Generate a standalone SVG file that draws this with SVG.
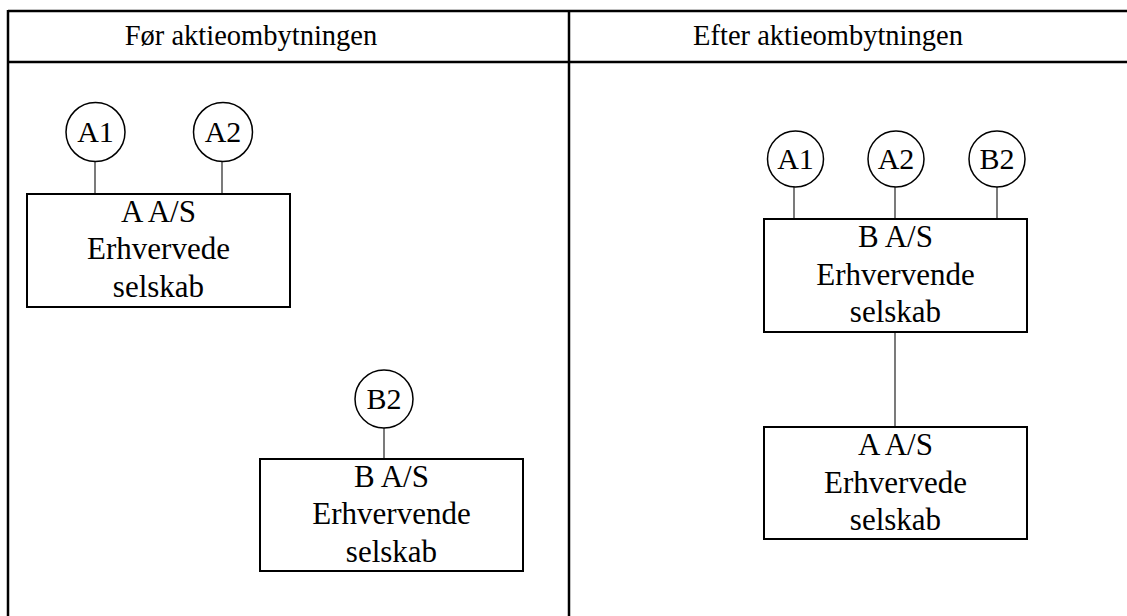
<svg xmlns="http://www.w3.org/2000/svg" width="1127" height="616" viewBox="0 0 1127 616">
<style>
text{font-family:"Liberation Serif","Times New Roman",serif;fill:#000;text-anchor:middle}
.hd{font-size:28.5px}
.bx{font-size:31px}
.cl{font-size:30px}
.box{fill:#fff;stroke:#000;stroke-width:2}
.own{fill:#fff;stroke:#000;stroke-width:1.5}
.tbl{stroke:#000;stroke-width:2.5;fill:none}
.con{stroke:#222;stroke-width:1.2;fill:none}
</style>
<rect width="1127" height="616" fill="#fff"/>
<g id="table">
<line class="tbl" x1="8" y1="11" x2="1127" y2="11"/>
<line class="tbl" x1="8" y1="62" x2="1127" y2="62"/>
<line class="tbl" x1="8" y1="10" x2="8" y2="616"/>
<line class="tbl" x1="569" y1="10" x2="569" y2="616"/>
<text class="hd" x="251" y="45">Før aktieombytningen</text>
<text class="hd" x="828" y="45">Efter aktieombytningen</text>
</g>
<g id="connectors">
<line class="con" x1="95" y1="161" x2="95" y2="194"/>
<line class="con" x1="222" y1="161" x2="222" y2="194"/>
<line class="con" x1="384" y1="427" x2="384" y2="459"/>
<line class="con" x1="794" y1="186" x2="794" y2="219"/>
<line class="con" x1="895" y1="186" x2="895" y2="219"/>
<line class="con" x1="997" y1="186" x2="997" y2="219"/>
<line class="con" x1="895" y1="332" x2="895" y2="427"/>
</g>
<g id="left-A1"><circle class="own" cx="95.5" cy="132" r="29.5"/><text class="cl" x="95.5" y="142">A1</text></g>
<g id="left-A2"><circle class="own" cx="223" cy="132" r="29.5"/><text class="cl" x="223" y="142">A2</text></g>
<g id="left-AAS"><rect class="box" x="27" y="194" width="263" height="113"/>
<text class="bx" x="158.5" y="222">A A/S</text><text class="bx" x="158.5" y="259">Erhvervede</text><text class="bx" x="158.5" y="297">selskab</text></g>
<g id="left-B2"><circle class="own" cx="384" cy="399" r="29"/><text class="cl" x="384" y="409">B2</text></g>
<g id="left-BAS"><rect class="box" x="260" y="459" width="263" height="112"/>
<text class="bx" x="391.5" y="487">B A/S</text><text class="bx" x="391.5" y="524">Erhvervende</text><text class="bx" x="391.5" y="562">selskab</text></g>
<g id="right-A1"><circle class="own" cx="795.5" cy="159" r="28"/><text class="cl" x="795.5" y="169">A1</text></g>
<g id="right-A2"><circle class="own" cx="896" cy="159" r="28"/><text class="cl" x="896" y="169">A2</text></g>
<g id="right-B2"><circle class="own" cx="997" cy="159" r="28"/><text class="cl" x="997" y="169">B2</text></g>
<g id="right-BAS"><rect class="box" x="764" y="219" width="263" height="113"/>
<text class="bx" x="895.5" y="247">B A/S</text><text class="bx" x="895.5" y="285">Erhvervende</text><text class="bx" x="895.5" y="322">selskab</text></g>
<g id="right-AAS"><rect class="box" x="764" y="427" width="263" height="112"/>
<text class="bx" x="895.5" y="455">A A/S</text><text class="bx" x="895.5" y="493">Erhvervede</text><text class="bx" x="895.5" y="530">selskab</text></g>
</svg>
